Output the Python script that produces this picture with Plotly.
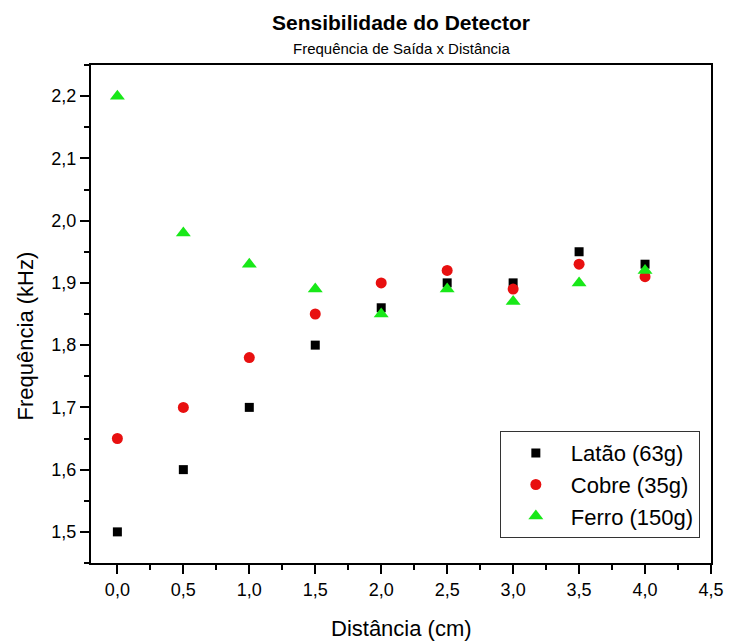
import plotly.graph_objects as go

distancia = [0.0, 0.5, 1.0, 1.5, 2.0, 2.5, 3.0, 3.5, 4.0]
latao = [1.50, 1.60, 1.70, 1.80, 1.86, 1.90, 1.90, 1.95, 1.93]
cobre = [1.65, 1.70, 1.78, 1.85, 1.90, 1.92, 1.89, 1.93, 1.91]
ferro = [2.20, 1.98, 1.93, 1.89, 1.85, 1.89, 1.87, 1.90, 1.92]

names = ["Latão (63g)", "Cobre (35g)", "Ferro (150g)"]
FONT = "Liberation Sans, Arial, sans-serif"

fig = go.Figure()
fig.add_trace(go.Scatter(x=distancia, y=latao, mode="markers", name=names[0],
                         marker=dict(symbol="square", size=9, color="#000000", line=dict(width=0))))
fig.add_trace(go.Scatter(x=distancia, y=cobre, mode="markers", name=names[1],
                         marker=dict(symbol="circle", size=11, color="#e81010", line=dict(width=0))))
fig.add_trace(go.Scatter(x=distancia, y=ferro, mode="markers", name=names[2],
                         marker=dict(symbol="triangle-up", size=13, color="#18e818", line=dict(width=0))))

axis_common = dict(showline=True, linecolor="black", linewidth=2, mirror=True,
                   ticks="outside", ticklen=9, tickwidth=2, tickcolor="black",
                   showgrid=False, zeroline=False, tickformat=".1f",
                   tickfont=dict(family=FONT, size=18, color="black"))

fig.update_xaxes(range=[-0.2, 4.5], dtick=0.5, tick0=0,
                 minor=dict(ticks="outside", dtick=0.25, tick0=0, ticklen=5, tickwidth=2, tickcolor="black"),
                 **axis_common)
fig.update_yaxes(range=[1.45, 2.25], dtick=0.1, tick0=1.5,
                 minor=dict(ticks="outside", dtick=0.05, tick0=1.5, ticklen=5, tickwidth=2, tickcolor="black"),
                 **axis_common)

fig.update_layout(
    width=736, height=641,
    margin=dict(l=91, r=15, t=65, b=78),
    paper_bgcolor="white", plot_bgcolor="white",
    separators=",.",
    font=dict(family=FONT, color="black"),
    showlegend=True,
    legend=dict(x=0.982, y=0.05, xanchor="right", yanchor="bottom",
                bordercolor="#333333", borderwidth=1, bgcolor="white",
                itemwidth=60,
                font=dict(family=FONT, size=22, color="black")),
    annotations=[
        dict(text="<b>Sensibilidade do Detector</b>", xref="paper", yref="paper",
             x=0.5, y=1.0, yshift=43, xanchor="center", yanchor="middle",
             showarrow=False, font=dict(family=FONT, size=21, color="black")),
        dict(text="Frequência de Saída x Distância", xref="paper", yref="paper",
             x=0.5, y=1.0, yshift=17, xanchor="center", yanchor="middle",
             showarrow=False, font=dict(family=FONT, size=15, color="black")),
        dict(text="Distância (cm)", xref="paper", yref="paper",
             x=0.5, y=0.0, yshift=-65, xanchor="center", yanchor="middle",
             showarrow=False, font=dict(family=FONT, size=22, color="black")),
        dict(text="Frequência (kHz)", xref="paper", yref="paper", textangle=-90,
             x=0.0, xshift=-66, y=0.455, xanchor="center", yanchor="middle",
             showarrow=False, font=dict(family=FONT, size=22, color="black")),
    ],
)

fig.write_html("out.html", config={"displayModeBar": False},
               post_script="document.body.style.margin='0';document.body.style.overflow='hidden';")
